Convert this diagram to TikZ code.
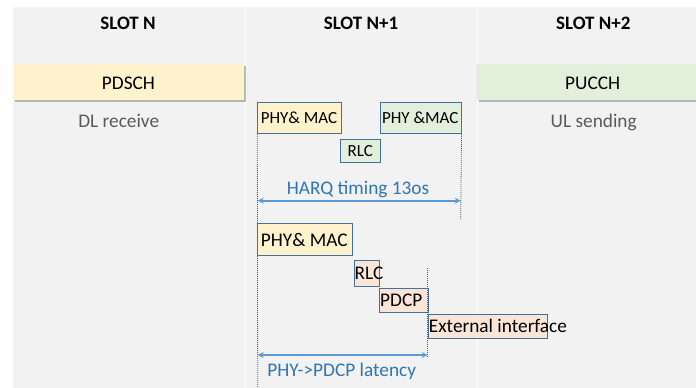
\documentclass[tikz,border=0pt]{standalone}
\usepackage{fontspec}
\setmainfont{Carlito}
\usetikzlibrary{arrows.meta,shadows}
\definecolor{panel}{HTML}{F2F2F2}
\definecolor{yel}{HTML}{FFF2CC}
\definecolor{grn}{HTML}{E2EFDA}
\definecolor{org}{HTML}{FBE5D6}
\definecolor{bord}{HTML}{41719C}
\definecolor{arr}{HTML}{5B9BD5}
\definecolor{bluetxt}{HTML}{2E75B6}
\definecolor{greytxt}{HTML}{595959}
\definecolor{dotc}{HTML}{595959}
\tikzset{
  panelbox/.style={fill=panel, draw=none},
  bar/.style={draw=none, inner sep=0, anchor=north west,
    drop shadow={shadow xshift=1.8pt, shadow yshift=-2pt, fill=black, opacity=0.25}},
  procbox/.style={draw=bord, line width=0.8pt, inner sep=0, anchor=north west},
  big/.style={font=\fontsize{19.3}{22}\selectfont, inner sep=0, anchor=base},
  small/.style={font=\fontsize{17}{20}\selectfont, inner sep=0, anchor=base},
  lefttxt/.style={font=\fontsize{19.3}{22}\selectfont, inner sep=0, anchor=base west},
  title/.style={font=\fontsize{19}{22}\selectfont\bfseries, inner sep=0, anchor=base},
  guide/.style={draw=dotc, line width=0.8pt, dash pattern=on 1pt off 1pt},
  span/.style={draw=arr, line width=1.7pt, {Stealth[length=6pt,width=6pt]}-{Stealth[length=6pt,width=6pt]}}
}
\begin{document}
\begin{tikzpicture}[x=1pt,y=-1pt]
\useasboundingbox (0,0) rectangle (696,388);
% panels
\fill[white] (0,0) rectangle (696,388);
\fill[panelbox] (13,7) rectangle (244.6,388);
\fill[panelbox] (245.9,7) rectangle (476.6,388);
\fill[panelbox] (477.9,7) rectangle (696,388);
% titles
\node[title] (t1) at (128,29.3) {SLOT N};
\node[title] (t2) at (361,29.3) {SLOT N+1};
\node[title] (t3) at (593.3,29.3) {SLOT N+2};
% bars
\node[bar, fill=yel, minimum width=231pt, minimum height=36pt] (pdsch) at (13,64) {};
\node[big] (pdschT) at (128.5,89.3) {PDSCH};
\node[bar, fill=grn, minimum width=219pt, minimum height=36pt] (pucch) at (477,64) {};
\node[big] (pucchT) at (592.7,89.3) {PUCCH};
\node[big, text=greytxt] (dl) at (118.7,127.3) {DL receive};
\node[big, text=greytxt] (ul) at (593.7,127.3) {UL sending};
% upper process boxes
\node[procbox, fill=yel, minimum width=83.4pt, minimum height=31.6pt] (pm1) at (257.3,101.7) {};
\node[small] (pm1T) at (299,123.3) {PHY\& MAC};
\node[procbox, fill=grn, minimum width=80.7pt, minimum height=31.6pt] (pm2) at (380,101.7) {};
\node[small] (pm2T) at (420.3,123.3) {PHY \&MAC};
\node[procbox, fill=grn, minimum width=40pt, minimum height=23.3pt] (rlc1) at (340.3,139) {};
\node[small] (rlc1T) at (360.3,156.7) {RLC};
% HARQ span
\coordinate (g1top) at (pm1.south west);
\coordinate (g1bot) at (257.7,388);
\coordinate (g2top) at (pm2.south east);
\coordinate (g2bot) at (460.7,220);
\draw[guide] (g1top) -- (g1bot);
\draw[guide] (g2top) -- (g2bot);
\coordinate (h1) at (257.7,200.7);
\coordinate (h2) at (460.7,200.7);
\draw[span] (h1) -- (h2);
\node[big, text=bluetxt] (harq) at (358,194.3) {HARQ timing 13os};
% lower process boxes
\node[procbox, fill=yel, minimum width=94.4pt, minimum height=31.7pt] (pm3) at (257.3,223.3) {};
\node[lefttxt] (pm3T) at (260.7,246) {PHY\& MAC};
\node[procbox, fill=org, minimum width=25.6pt, minimum height=25.4pt] (rlc2) at (353.7,260.3) {};
\node[lefttxt] (rlc2T) at (354.5,279.3) {RLC};
\node[procbox, fill=org, minimum width=48.7pt, minimum height=24.3pt] (pdcp) at (379,288) {};
\node[lefttxt] (pdcpT) at (380,306.6) {PDCP};
\node[procbox, fill=org, minimum width=119pt, minimum height=24.3pt] (ext) at (427.7,313.7) {};
\node[lefttxt] (extT) at (428.7,332.2) {External interface};
% latency span
\coordinate (g3top) at (427.7,268);
\coordinate (g3bot) at (427.7,358);
\draw[guide] (g3top) -- (g3bot);
\coordinate (p1) at (257.7,355);
\coordinate (p2) at (427.7,355);
\draw[span] (p1) -- (p2);
\node[big, text=bluetxt] (lat) at (341.7,376.7) {PHY->PDCP latency};
\end{tikzpicture}
\end{document}
